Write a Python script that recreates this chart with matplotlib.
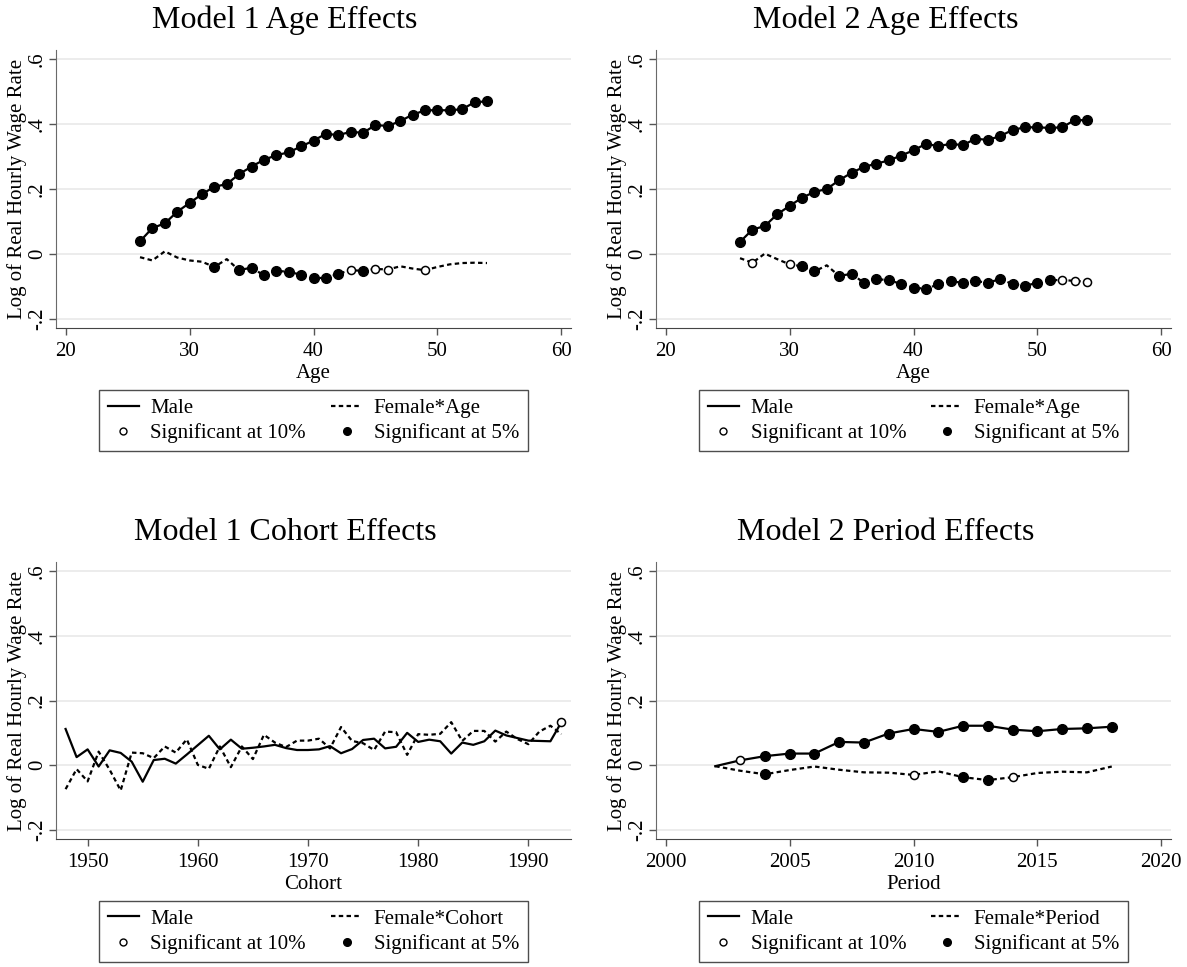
import numpy as np
import matplotlib.pyplot as plt
from matplotlib.lines import Line2D

plt.rcParams['font.family'] = ['Liberation Serif', 'DejaVu Serif']

# --- data ---
age = [26, 27, 28, 29, 30, 31, 32, 33, 34, 35, 36, 37, 38, 39, 40,
       41, 42, 43, 44, 45, 46, 47, 48, 49, 50, 51, 52, 53, 54]

m1_age_male = [0.039, 0.080, 0.094, 0.130, 0.157, 0.184, 0.207, 0.215, 0.246, 0.269,
               0.290, 0.304, 0.313, 0.331, 0.349, 0.370, 0.366, 0.376, 0.373, 0.397,
               0.394, 0.409, 0.429, 0.442, 0.443, 0.442, 0.446, 0.467, 0.470]
m1_age_female = [-0.010, -0.020, 0.008, -0.011, -0.020, -0.024, -0.040, -0.016, -0.050, -0.042,
                 -0.066, -0.052, -0.055, -0.064, -0.074, -0.074, -0.061, -0.050, -0.052, -0.046,
                 -0.048, -0.038, -0.045, -0.050, -0.040, -0.032, -0.028, -0.027, -0.028]
# significance: 0 = none, 1 = 10%, 2 = 5%
m1_age_male_sig = [2, 2, 2, 2, 2, 2, 2, 2, 2, 2, 2, 2, 2, 2, 2,
                   2, 2, 2, 2, 2, 2, 2, 2, 2, 2, 2, 2, 2, 2]
m1_age_female_sig = [0, 0, 0, 0, 0, 0, 2, 0, 2, 2, 2, 2, 2, 2, 2,
                     2, 2, 1, 2, 1, 1, 0, 0, 1, 0, 0, 0, 0, 0]

m2_age_male = [0.037, 0.075, 0.086, 0.122, 0.148, 0.173, 0.191, 0.200, 0.227, 0.250,
               0.268, 0.278, 0.288, 0.303, 0.319, 0.339, 0.332, 0.339, 0.335, 0.355,
               0.351, 0.363, 0.382, 0.390, 0.390, 0.388, 0.390, 0.412, 0.412]
m2_age_female = [-0.013, -0.027, 0.001, -0.016, -0.032, -0.038, -0.054, -0.035, -0.068, -0.061,
                 -0.089, -0.077, -0.081, -0.092, -0.104, -0.107, -0.094, -0.084, -0.089, -0.083,
                 -0.089, -0.077, -0.093, -0.098, -0.089, -0.081, -0.080, -0.083, -0.085]
m2_age_male_sig = [2, 2, 2, 2, 2, 2, 2, 2, 2, 2, 2, 2, 2, 2, 2,
                   2, 2, 2, 2, 2, 2, 2, 2, 2, 2, 2, 2, 2, 2]
m2_age_female_sig = [0, 1, 0, 0, 1, 2, 2, 0, 2, 2, 2, 2, 2, 2, 2,
                     2, 2, 2, 2, 2, 2, 2, 2, 2, 2, 2, 1, 1, 1]

cohort = [1948, 1949, 1950, 1951, 1952, 1953, 1954, 1955, 1956, 1957, 1958, 1959,
          1960, 1961, 1962, 1963, 1964, 1965, 1966, 1967, 1968, 1969, 1970, 1971,
          1972, 1973, 1974, 1975, 1976, 1977, 1978, 1979, 1980, 1981, 1982, 1983,
          1984, 1985, 1986, 1987, 1988, 1989, 1990, 1991, 1992, 1993]
m1_cohort_male = [0.112, 0.025, 0.049, -0.004, 0.046, 0.038, 0.011, -0.051, 0.016, 0.020,
                  0.005, 0.033, 0.062, 0.091, 0.049, 0.079, 0.051, 0.054, 0.058, 0.063,
                  0.053, 0.047, 0.047, 0.049, 0.059, 0.037, 0.050, 0.078, 0.082, 0.052,
                  0.057, 0.100, 0.072, 0.079, 0.074, 0.036, 0.070, 0.063, 0.074, 0.107,
                  0.092, 0.084, 0.076, 0.075, 0.074, 0.133]
m1_cohort_female = [-0.074, -0.012, -0.050, 0.042, -0.014, -0.078, 0.039, 0.037, 0.022, 0.058,
                    0.039, 0.080, 0.001, -0.011, 0.058, -0.006, 0.058, 0.019, 0.094, 0.070,
                    0.056, 0.076, 0.076, 0.082, 0.052, 0.118, 0.075, 0.068, 0.047, 0.104,
                    0.102, 0.032, 0.096, 0.094, 0.097, 0.133, 0.075, 0.106, 0.106, 0.073,
                    0.104, 0.081, 0.065, 0.104, 0.122, 0.096]
m1_cohort_male_sig = [0, 0, 0, 0, 0, 0, 0, 0, 0, 0, 0, 0, 0, 0, 0, 0, 0, 0, 0, 0, 0, 0, 0,
                      0, 0, 0, 0, 0, 0, 0, 0, 0, 0, 0, 0, 0, 0, 0, 0, 0, 0, 0, 0, 0, 0, 1]
m1_cohort_female_sig = [0, 0, 0, 0, 0, 0, 0, 0, 0, 0, 0, 0, 0, 0, 0, 0, 0, 0, 0, 0, 0, 0, 0,
                        0, 0, 0, 0, 0, 0, 0, 0, 0, 0, 0, 0, 0, 0, 0, 0, 0, 0, 0, 0, 0, 0, 0]

period = [2002, 2003, 2004, 2005, 2006, 2007, 2008, 2009, 2010,
          2011, 2012, 2013, 2014, 2015, 2016, 2017, 2018]
m2_period_male = [-0.003, 0.015, 0.028, 0.036, 0.036, 0.072, 0.070, 0.098, 0.112,
                  0.103, 0.122, 0.122, 0.110, 0.105, 0.112, 0.114, 0.119]
m2_period_female = [-0.003, -0.017, -0.028, -0.015, -0.004, -0.014, -0.022, -0.023, -0.030,
                    -0.019, -0.037, -0.046, -0.037, -0.024, -0.020, -0.022, -0.004]
m2_period_male_sig = [0, 1, 2, 2, 2, 2, 2, 2, 2, 2, 2, 2, 2, 2, 2, 2, 2]
m2_period_female_sig = [0, 0, 2, 0, 0, 0, 0, 0, 1, 0, 2, 2, 1, 0, 0, 0, 0]

y_ticks = [-0.2, 0, 0.2, 0.4, 0.6]
y_tick_labels = ['-.2', '0', '.2', '.4', '.6']

DASH = (0, (2.0, 1.5))
W, H = 1187, 967

fig = plt.figure(figsize=(W / 100, H / 100), dpi=100)
fig.patch.set_facecolor('white')


def panel(rect, title, title_x, x, male, female, male_sig, female_sig,
          xlim, xticks, xlabel, female_label):
    l, t, r, b = rect
    ax = fig.add_axes([l / W, 1 - b / H, (r - l) / W, (b - t) / H])
    ax.plot(x, male, color='black', lw=1.6, zorder=3)
    ax.plot(x, female, color='black', lw=1.6, ls=DASH, zorder=3)
    xs = np.array(x)
    for yv, sig in ((male, male_sig), (female, female_sig)):
        yv = np.array(yv)
        s = np.array(sig)
        ax.plot(xs[s == 2], yv[s == 2], 'o', ms=7, mfc='black', mec='black',
                zorder=4)
        ax.plot(xs[s == 1], yv[s == 1], 'o', ms=5.8, mfc='white', mec='black',
                mew=1.1, zorder=4)

    ax.set_xlim(*xlim)
    ax.set_ylim(-0.228, 0.628)
    ax.set_xticks(xticks)
    ax.set_yticks(y_ticks)
    ax.set_yticklabels(y_tick_labels, rotation=90, va='center')
    ax.yaxis.grid(True, color='#e9e9e9', lw=1.2)
    ax.set_axisbelow(True)
    for side in ('top', 'right'):
        ax.spines[side].set_visible(False)
    ax.spines['left'].set_color('#6a6a6a')
    ax.spines['bottom'].set_color('#444444')
    ax.tick_params(axis='both', direction='out', length=5, width=1,
                   color='#555555', labelsize=15)
    ax.tick_params(axis='x', pad=5)
    ax.tick_params(axis='y', pad=1.5)
    ax.set_xlabel(xlabel, fontsize=15, labelpad=2.5)
    ax.set_ylabel('Log of Real Hourly Wage Rate', fontsize=15, labelpad=0.5)
    fig.text(title_x / W, 1 - (t - 22) / H, title, fontsize=23, ha='center',
             va='baseline')

    handles = [
        Line2D([], [], color='black', lw=1.6),
        Line2D([], [], ls='none', marker='o', ms=5, mfc='white', mec='black', mew=1),
        Line2D([], [], color='black', lw=1.6, ls=DASH),
        Line2D([], [], ls='none', marker='o', ms=5.5, mfc='black', mec='black'),
    ]
    labels = ['Male', 'Significant at 10%', female_label, 'Significant at 5%']
    leg = ax.legend(handles, labels, ncol=2, loc='upper center',
                    bbox_to_anchor=(0.5, -0.223), fontsize=15, frameon=True,
                    fancybox=False, edgecolor='#222222', handlelength=1.5,
                    handletextpad=0.55, columnspacing=1.2, labelspacing=0.25,
                    borderpad=0.4, borderaxespad=0)
    leg.get_frame().set_linewidth(1.0)
    return ax


panel((56, 50, 571, 328), 'Model 1 Age Effects', 285, age,
      m1_age_male, m1_age_female, m1_age_male_sig, m1_age_female_sig,
      (19.22, 60.78), [20, 30, 40, 50, 60], 'Age', 'Female*Age')
panel((656, 50, 1171, 328), 'Model 2 Age Effects', 886, age,
      m2_age_male, m2_age_female, m2_age_male_sig, m2_age_female_sig,
      (19.22, 60.78), [20, 30, 40, 50, 60], 'Age', 'Female*Age')
panel((56, 562, 571, 839), 'Model 1 Cohort Effects', 285, cohort,
      m1_cohort_male, m1_cohort_female, m1_cohort_male_sig, m1_cohort_female_sig,
      (1947.13, 1993.87), [1950, 1960, 1970, 1980, 1990], 'Cohort', 'Female*Cohort')
panel((656, 562, 1171, 839), 'Model 2 Period Effects', 886, period,
      m2_period_male, m2_period_female, m2_period_male_sig, m2_period_female_sig,
      (1999.61, 2020.39), [2000, 2005, 2010, 2015, 2020], 'Period', 'Female*Period')

fig.savefig('out.png', dpi=100, facecolor='white')
